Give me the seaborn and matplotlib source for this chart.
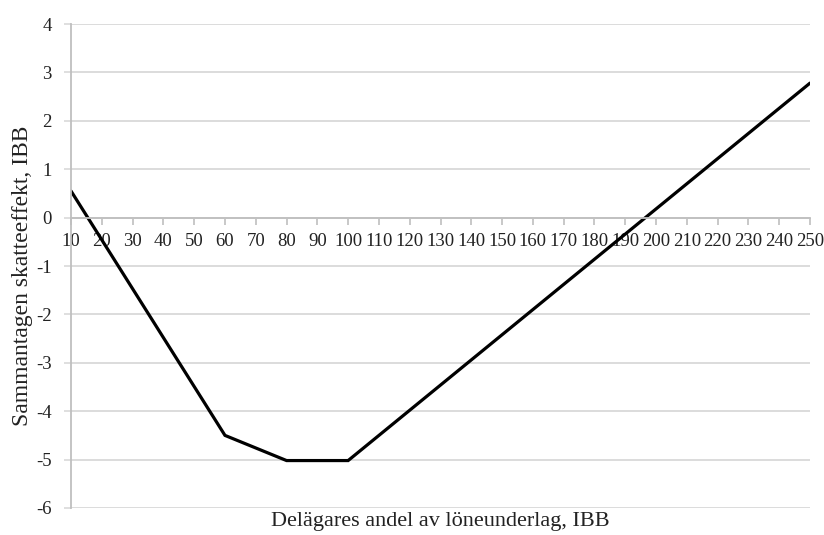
import matplotlib
matplotlib.use("Agg")
import matplotlib.pyplot as plt
import seaborn as sns
import pandas as pd

# Data (breakpoints of the piecewise-linear curve)
andel = [10, 60, 80, 100, 250]
skatteeffekt = [0.55, -4.50, -5.02, -5.02, 2.78]
x_ticks = list(range(10, 251, 10))
y_ticks = [-6, -5, -4, -3, -2, -1, 0, 1, 2, 3, 4]

x_label = "Delägares andel av löneunderlag, IBB"
y_label = "Sammantagen skatteeffekt, IBB"

df = pd.DataFrame({"andel": andel, "effekt": skatteeffekt})

sns.set_theme(style="white")
plt.rcParams["font.family"] = ["Liberation Serif", "DejaVu Serif"]

fig = plt.figure(figsize=(8.24, 5.35), dpi=100)
ax = fig.add_axes([0.0862, 0.0505, 0.8968, 0.9045])

grid_c = "#d9d9d9"
axis_c = "#bfbfbf"
for s in ["top", "right"]:
    ax.spines[s].set_visible(False)
ax.spines["bottom"].set_position(("data", 0))
ax.spines["bottom"].set_color(axis_c)
ax.spines["bottom"].set_linewidth(1.3)
ax.spines["left"].set_color(axis_c)
ax.spines["left"].set_linewidth(1.3)

sns.lineplot(data=df, x="andel", y="effekt", ax=ax, color="black",
             linewidth=2.3, solid_joinstyle="miter")

ax.set_xlim(10, 250)
ax.set_ylim(-6, 4)
ax.set_xticks(x_ticks)
ax.set_xticklabels([str(v) for v in x_ticks])
ax.set_yticks(y_ticks)
ax.set_yticklabels([str(v) for v in y_ticks])

ax.yaxis.grid(True, color=grid_c, linewidth=1.3)
ax.xaxis.grid(False)
ax.set_axisbelow(True)

ax.tick_params(axis="x", direction="out", length=5, width=1.2, color=axis_c,
               pad=6, labelcolor="#222222", labelsize=13.5, bottom=True)
ax.tick_params(axis="y", direction="out", length=5, width=1.2, color=grid_c,
               pad=9, labelcolor="#222222", labelsize=13.5, left=True)

ax.set_xlabel(x_label, fontsize=16, color="#222222")
ax.xaxis.set_label_coords(0.5, -0.008)
ax.set_ylabel(y_label, fontsize=17, color="#222222")
ax.yaxis.set_label_coords(-0.051, 0.48)

fig.savefig("out.png", dpi=100)
